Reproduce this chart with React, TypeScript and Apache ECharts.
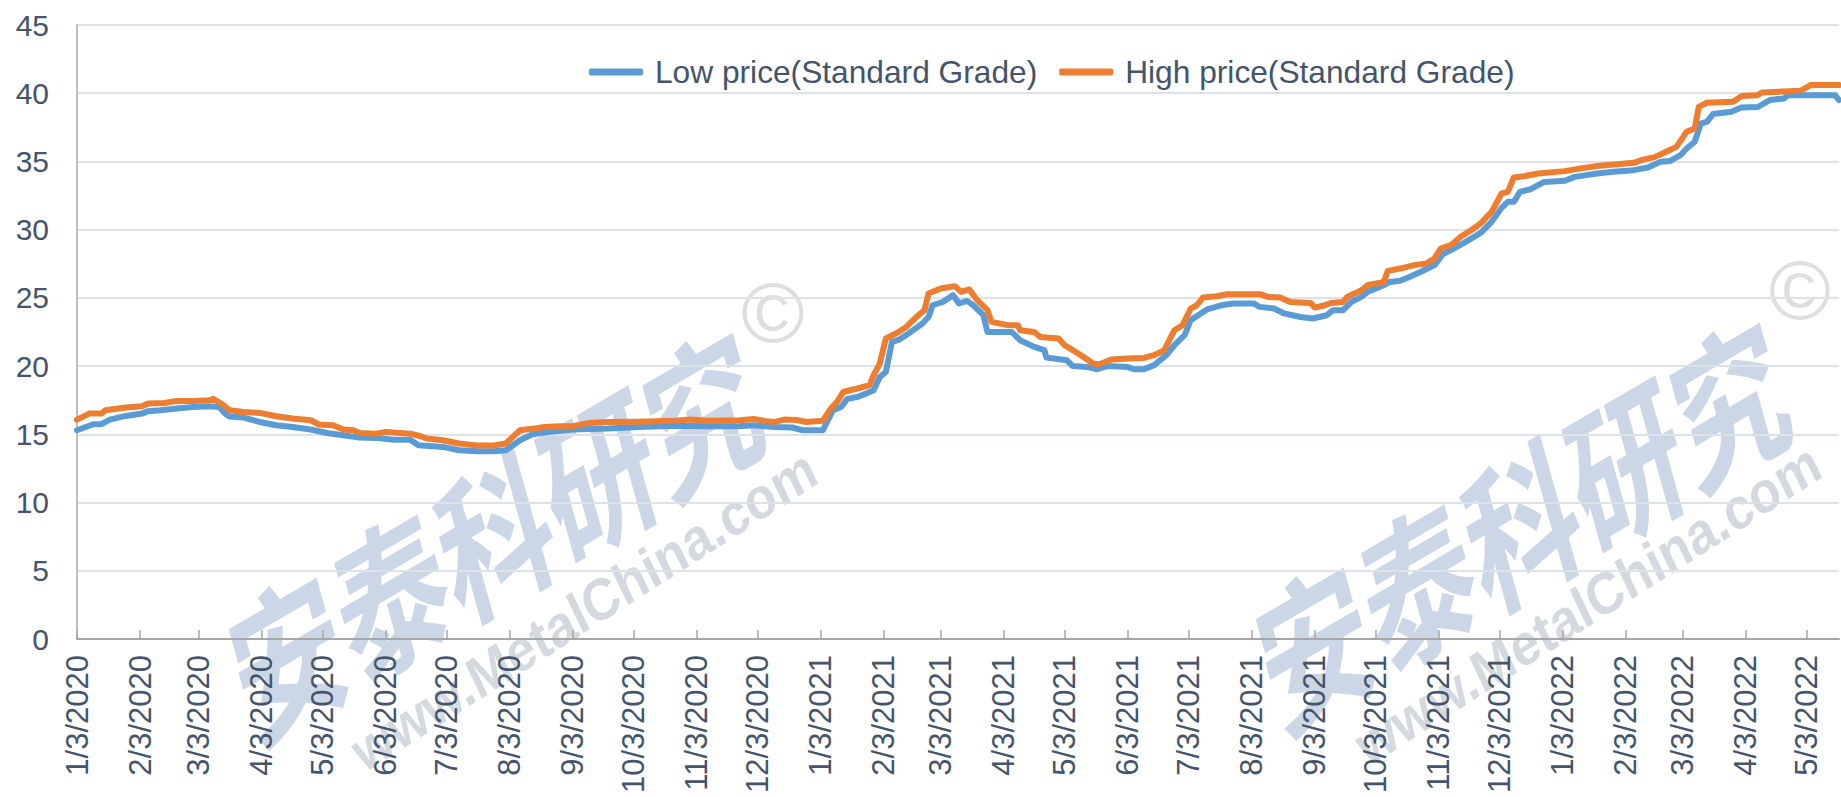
import React, { useEffect, useRef } from "react";
import * as echarts from "echarts";

// Axis range (daily category axis) and monthly tick labels
const startDate = "2020-01-03";
const endDate = "2022-05-19";
const tickDates = [
  "2020-01-03", "2020-02-03", "2020-03-03", "2020-04-03", "2020-05-03", "2020-06-03",
  "2020-07-03", "2020-08-03", "2020-09-03", "2020-10-03", "2020-11-03", "2020-12-03",
  "2021-01-03", "2021-02-03", "2021-03-03", "2021-04-03", "2021-05-03", "2021-06-03",
  "2021-07-03", "2021-08-03", "2021-09-03", "2021-10-03", "2021-11-03", "2021-12-03",
  "2022-01-03", "2022-02-03", "2022-03-03", "2022-04-03", "2022-05-03",
];
const yTicks = [0, 45, 5]; // min, max, step

const seriesNames = ["Low price(Standard Grade)", "High price(Standard Grade)"];

// Low price (Standard Grade): [date, value]
const lowPrice: [string, number][] = [
  ["2020-01-03", 15.3], ["2020-01-11", 15.74], ["2020-01-15", 15.74], ["2020-01-19", 16.08],
  ["2020-01-27", 16.35], ["2020-02-04", 16.52], ["2020-02-07", 16.7], ["2020-02-13", 16.77],
  ["2020-02-21", 16.89], ["2020-02-29", 17.0], ["2020-03-08", 17.06], ["2020-03-13", 17.0],
  ["2020-03-16", 16.5], ["2020-03-18", 16.3], ["2020-03-25", 16.23], ["2020-04-02", 15.9],
  ["2020-04-10", 15.67], ["2020-04-18", 15.54], ["2020-04-27", 15.35], ["2020-05-05", 15.1],
  ["2020-05-13", 14.93], ["2020-05-21", 14.76], ["2020-05-29", 14.74], ["2020-06-07", 14.6],
  ["2020-06-15", 14.6], ["2020-06-19", 14.2], ["2020-07-01", 14.08], ["2020-07-09", 13.83],
  ["2020-07-18", 13.76], ["2020-07-26", 13.76], ["2020-08-01", 13.83], ["2020-08-08", 14.57],
  ["2020-08-14", 15.0], ["2020-08-23", 15.18], ["2020-09-03", 15.35], ["2020-09-20", 15.42],
  ["2020-10-06", 15.54], ["2020-10-22", 15.62], ["2020-11-08", 15.6], ["2020-11-24", 15.6],
  ["2020-12-01", 15.66], ["2020-12-11", 15.54], ["2020-12-20", 15.5], ["2020-12-25", 15.3],
  ["2021-01-04", 15.3], ["2021-01-09", 16.77], ["2021-01-13", 17.0], ["2021-01-16", 17.6],
  ["2021-01-21", 17.74], ["2021-01-26", 18.04], ["2021-01-29", 18.23], ["2021-02-01", 19.2],
  ["2021-02-04", 19.57], ["2021-02-07", 21.77], ["2021-02-10", 21.9], ["2021-02-14", 22.27],
  ["2021-02-22", 23.12], ["2021-02-25", 23.6], ["2021-02-27", 24.46], ["2021-03-04", 24.7],
  ["2021-03-09", 25.2], ["2021-03-12", 24.6], ["2021-03-16", 24.78], ["2021-03-19", 24.46],
  ["2021-03-24", 23.73], ["2021-03-26", 22.5], ["2021-04-07", 22.5], ["2021-04-11", 21.9],
  ["2021-04-18", 21.41], ["2021-04-23", 21.17], ["2021-04-24", 20.63], ["2021-05-04", 20.43],
  ["2021-05-07", 20.0], ["2021-05-14", 19.94], ["2021-05-19", 19.77], ["2021-05-24", 20.0],
  ["2021-06-03", 19.94], ["2021-06-06", 19.77], ["2021-06-11", 19.77], ["2021-06-16", 20.07],
  ["2021-06-22", 20.8], ["2021-06-26", 21.53], ["2021-07-01", 22.27], ["2021-07-04", 23.37],
  ["2021-07-09", 23.86], ["2021-07-12", 24.15], ["2021-07-19", 24.46], ["2021-07-25", 24.59],
  ["2021-08-04", 24.59], ["2021-08-07", 24.34], ["2021-08-14", 24.22], ["2021-08-19", 23.86],
  ["2021-08-27", 23.6], ["2021-09-02", 23.49], ["2021-09-09", 23.73], ["2021-09-12", 24.1],
  ["2021-09-17", 24.1], ["2021-09-21", 24.7], ["2021-09-26", 25.07], ["2021-09-29", 25.44],
  ["2021-10-07", 25.93], ["2021-10-10", 26.17], ["2021-10-15", 26.25], ["2021-10-19", 26.5],
  ["2021-10-25", 26.9], ["2021-11-01", 27.4], ["2021-11-05", 28.2], ["2021-11-09", 28.5],
  ["2021-11-15", 29.0], ["2021-11-20", 29.43], ["2021-11-24", 29.8], ["2021-11-29", 30.57],
  ["2021-12-04", 31.6], ["2021-12-07", 32.04], ["2021-12-10", 32.04], ["2021-12-13", 32.77],
  ["2021-12-18", 32.95], ["2021-12-25", 33.5], ["2022-01-04", 33.58], ["2022-01-09", 33.87],
  ["2022-01-20", 34.12], ["2022-01-28", 34.24], ["2022-02-07", 34.36], ["2022-02-14", 34.56],
  ["2022-02-20", 34.97], ["2022-02-25", 35.04], ["2022-03-02", 35.46], ["2022-03-05", 35.95],
  ["2022-03-09", 36.44], ["2022-03-12", 37.78], ["2022-03-15", 37.9], ["2022-03-18", 38.47],
  ["2022-03-27", 38.64], ["2022-04-01", 38.96], ["2022-04-09", 38.99], ["2022-04-15", 39.5],
  ["2022-04-22", 39.62], ["2022-04-24", 39.86], ["2022-05-17", 39.86], ["2022-05-19", 39.5],
];

// High price (Standard Grade): [date, value]
const highPrice: [string, number][] = [
  ["2020-01-03", 16.08], ["2020-01-09", 16.52], ["2020-01-15", 16.52], ["2020-01-17", 16.77],
  ["2020-01-27", 16.96], ["2020-02-04", 17.06], ["2020-02-07", 17.26], ["2020-02-15", 17.3],
  ["2020-02-21", 17.45], ["2020-02-29", 17.45], ["2020-03-08", 17.5], ["2020-03-10", 17.6],
  ["2020-03-14", 17.26], ["2020-03-18", 16.77], ["2020-03-25", 16.64], ["2020-04-02", 16.57],
  ["2020-04-10", 16.33], ["2020-04-18", 16.16], ["2020-04-27", 16.03], ["2020-05-01", 15.72],
  ["2020-05-08", 15.67], ["2020-05-13", 15.35], ["2020-05-18", 15.3], ["2020-05-21", 15.1],
  ["2020-05-29", 15.05], ["2020-06-03", 15.18], ["2020-06-15", 15.05], ["2020-06-20", 14.86],
  ["2020-06-23", 14.69], ["2020-07-01", 14.57], ["2020-07-09", 14.33], ["2020-07-18", 14.18],
  ["2020-07-26", 14.18], ["2020-08-01", 14.33], ["2020-08-08", 15.3], ["2020-08-15", 15.42],
  ["2020-08-20", 15.54], ["2020-08-28", 15.59], ["2020-09-03", 15.6], ["2020-09-11", 15.84],
  ["2020-09-20", 15.9], ["2020-10-06", 15.93], ["2020-10-23", 16.0], ["2020-10-31", 16.08],
  ["2020-11-08", 16.0], ["2020-11-24", 16.03], ["2020-12-01", 16.13], ["2020-12-07", 15.96],
  ["2020-12-11", 15.9], ["2020-12-16", 16.08], ["2020-12-22", 16.05], ["2020-12-27", 15.9],
  ["2021-01-04", 16.0], ["2021-01-08", 16.9], ["2021-01-11", 17.38], ["2021-01-14", 18.1],
  ["2021-01-21", 18.36], ["2021-01-27", 18.6], ["2021-01-29", 19.33], ["2021-02-01", 20.19],
  ["2021-02-04", 22.02], ["2021-02-09", 22.39], ["2021-02-14", 22.87], ["2021-02-20", 23.73],
  ["2021-02-23", 24.1], ["2021-02-25", 25.32], ["2021-03-03", 25.69], ["2021-03-10", 25.86],
  ["2021-03-13", 25.44], ["2021-03-17", 25.62], ["2021-03-21", 24.83], ["2021-03-26", 24.1],
  ["2021-03-28", 23.24], ["2021-04-05", 23.0], ["2021-04-10", 23.0], ["2021-04-11", 22.63],
  ["2021-04-18", 22.5], ["2021-04-21", 22.14], ["2021-04-30", 22.02], ["2021-05-03", 21.53],
  ["2021-05-07", 21.17], ["2021-05-11", 20.8], ["2021-05-17", 20.19], ["2021-05-20", 20.14],
  ["2021-05-26", 20.48], ["2021-06-03", 20.56], ["2021-06-11", 20.6], ["2021-06-16", 20.8],
  ["2021-06-21", 21.17], ["2021-06-26", 22.63], ["2021-06-30", 23.0], ["2021-07-04", 24.22],
  ["2021-07-07", 24.46], ["2021-07-10", 25.03], ["2021-07-17", 25.12], ["2021-07-22", 25.27],
  ["2021-08-07", 25.27], ["2021-08-11", 25.07], ["2021-08-17", 25.03], ["2021-08-22", 24.7],
  ["2021-09-01", 24.63], ["2021-09-03", 24.29], ["2021-09-08", 24.46], ["2021-09-11", 24.63],
  ["2021-09-17", 24.7], ["2021-09-19", 25.07], ["2021-09-26", 25.56], ["2021-09-29", 25.93],
  ["2021-10-07", 26.17], ["2021-10-09", 26.98], ["2021-10-15", 27.15], ["2021-10-22", 27.4],
  ["2021-10-28", 27.52], ["2021-11-01", 27.9], ["2021-11-04", 28.62], ["2021-11-09", 28.86],
  ["2021-11-14", 29.5], ["2021-11-19", 29.96], ["2021-11-24", 30.5], ["2021-11-29", 31.3],
  ["2021-12-04", 32.65], ["2021-12-07", 32.77], ["2021-12-10", 33.82], ["2021-12-15", 33.92],
  ["2021-12-22", 34.12], ["2022-01-04", 34.29], ["2022-01-12", 34.49], ["2022-01-20", 34.66],
  ["2022-02-07", 34.9], ["2022-02-12", 35.15], ["2022-02-17", 35.3], ["2022-02-24", 35.78],
  ["2022-02-28", 36.07], ["2022-03-05", 37.17], ["2022-03-09", 37.42], ["2022-03-11", 39.0],
  ["2022-03-15", 39.3], ["2022-03-28", 39.37], ["2022-04-01", 39.79], ["2022-04-09", 39.86],
  ["2022-04-11", 40.06], ["2022-04-30", 40.18], ["2022-05-05", 40.6], ["2022-05-19", 40.6],
];

const TEXT_COLOR = "#44546A";
const FONT = "'Liberation Sans', Arial, sans-serif";

function buildDays(from: string, to: string): string[] {
  const out: string[] = [];
  const t0 = Date.parse(from + "T00:00:00Z");
  const t1 = Date.parse(to + "T00:00:00Z");
  for (let t = t0; t <= t1; t += 86400000) out.push(new Date(t).toISOString().slice(0, 10));
  return out;
}

function fmtDate(v: string): string {
  const [y, m, d] = v.split("-");
  return `${Number(m)}/${Number(d)}/${y}`;
}

function watermark(cx: number, cy: number, ux: number, uy: number, px: number, py: number, cSize: number) {
  return [
    {
      type: "group",
      x: cx,
      y: cy,
      scaleY: 1.45,
      z: -10,
      children: [
        {
          type: "text",
          rotation: (22 * Math.PI) / 180,
          z: -10,
          style: {
            text: "安泰科研究",
            fontSize: 112,
            fontWeight: "bold",
            fontFamily: "'Noto Sans CJK SC', sans-serif",
            fill: "rgba(178,196,218,0.68)",
            align: "center",
            verticalAlign: "middle",
          },
        },
      ],
    },
    {
      type: "group",
      x: ux,
      y: uy,
      scaleY: 1.15,
      z: -10,
      children: [
        {
          type: "text",
          rotation: (29 * Math.PI) / 180,
          z: -10,
          style: {
            text: "www.MetalChina.com",
            fontSize: 51,
            fontWeight: "bold",
            fontFamily: FONT,
            fill: "rgba(196,202,212,0.72)",
            align: "center",
            verticalAlign: "middle",
          },
        },
      ],
    },
    {
      type: "text",
      x: px,
      y: py,
      z: -10,
      style: {
        text: "©",
        fontSize: cSize,
        fontFamily: FONT,
        fill: "rgba(205,205,205,0.65)",
        align: "center",
        verticalAlign: "middle",
      },
    },
  ];
}

export default function App() {
  const ref = useRef<HTMLDivElement>(null);

  useEffect(() => {
    if (!ref.current) return;
    const chart = echarts.init(ref.current, undefined, { renderer: "svg" });
    const days = buildDays(startDate, endDate);
    const tickSet = new Set(tickDates);

    chart.setOption({
      animation: false,
      backgroundColor: "#ffffff",
      textStyle: { fontFamily: FONT },
      graphic: [
        ...watermark(493, 528, 584, 610, 773, 312, 86),
        ...watermark(1520, 518, 1588, 604, 1800, 290, 84),
      ],
      legend: {
        left: 584,
        top: 51,
        icon: "roundRect",
        itemWidth: 54,
        itemHeight: 7,
        itemGap: 22,
        textStyle: { fontSize: 31.7, color: TEXT_COLOR, fontFamily: FONT, padding: [0, 0, 0, 7] },
        data: seriesNames,
      },
      grid: { left: 77, right: 2, top: 25, bottom: 158, containLabel: false },
      xAxis: {
        type: "category",
        data: days,
        boundaryGap: false,
        axisLine: { lineStyle: { color: "#a6a6a6", width: 2 } },
        axisTick: {
          inside: true,
          length: 9,
          interval: (_i: number, v: string) => tickSet.has(v),
          lineStyle: { color: "#a6a6a6", width: 1.5 },
        },
        axisLabel: {
          interval: (_i: number, v: string) => tickSet.has(v),
          rotate: 90,
          formatter: (v: string) => fmtDate(v),
          fontSize: 31,
          color: TEXT_COLOR,
          fontFamily: FONT,
          margin: 16,
        },
        splitLine: { show: false },
      },
      yAxis: {
        type: "value",
        min: yTicks[0],
        max: yTicks[1],
        interval: yTicks[2],
        axisLine: { show: true, lineStyle: { color: "#bfbfbf", width: 2 } },
        axisTick: { show: false },
        axisLabel: { fontSize: 30, color: TEXT_COLOR, fontFamily: FONT, margin: 28 },
        splitLine: { lineStyle: { color: "#dde1e8", width: 2 } },
      },
      series: [
        {
          name: seriesNames[0],
          type: "line",
          data: lowPrice,
          showSymbol: false,
          symbol: "none",
          color: "#5B9BD5",
          lineStyle: { width: 6, color: "#5B9BD5", cap: "round", join: "round" },
          z: 3,
        },
        {
          name: seriesNames[1],
          type: "line",
          data: highPrice,
          showSymbol: false,
          symbol: "none",
          color: "#ED7D31",
          lineStyle: { width: 6, color: "#ED7D31", cap: "round", join: "round" },
          z: 4,
        },
      ],
    });

    return () => chart.dispose();
  }, []);

  return (
    <div
      ref={ref}
      style={{ position: "fixed", left: 0, top: 0, width: 1841, height: 797, background: "#fff" }}
    />
  );
}
